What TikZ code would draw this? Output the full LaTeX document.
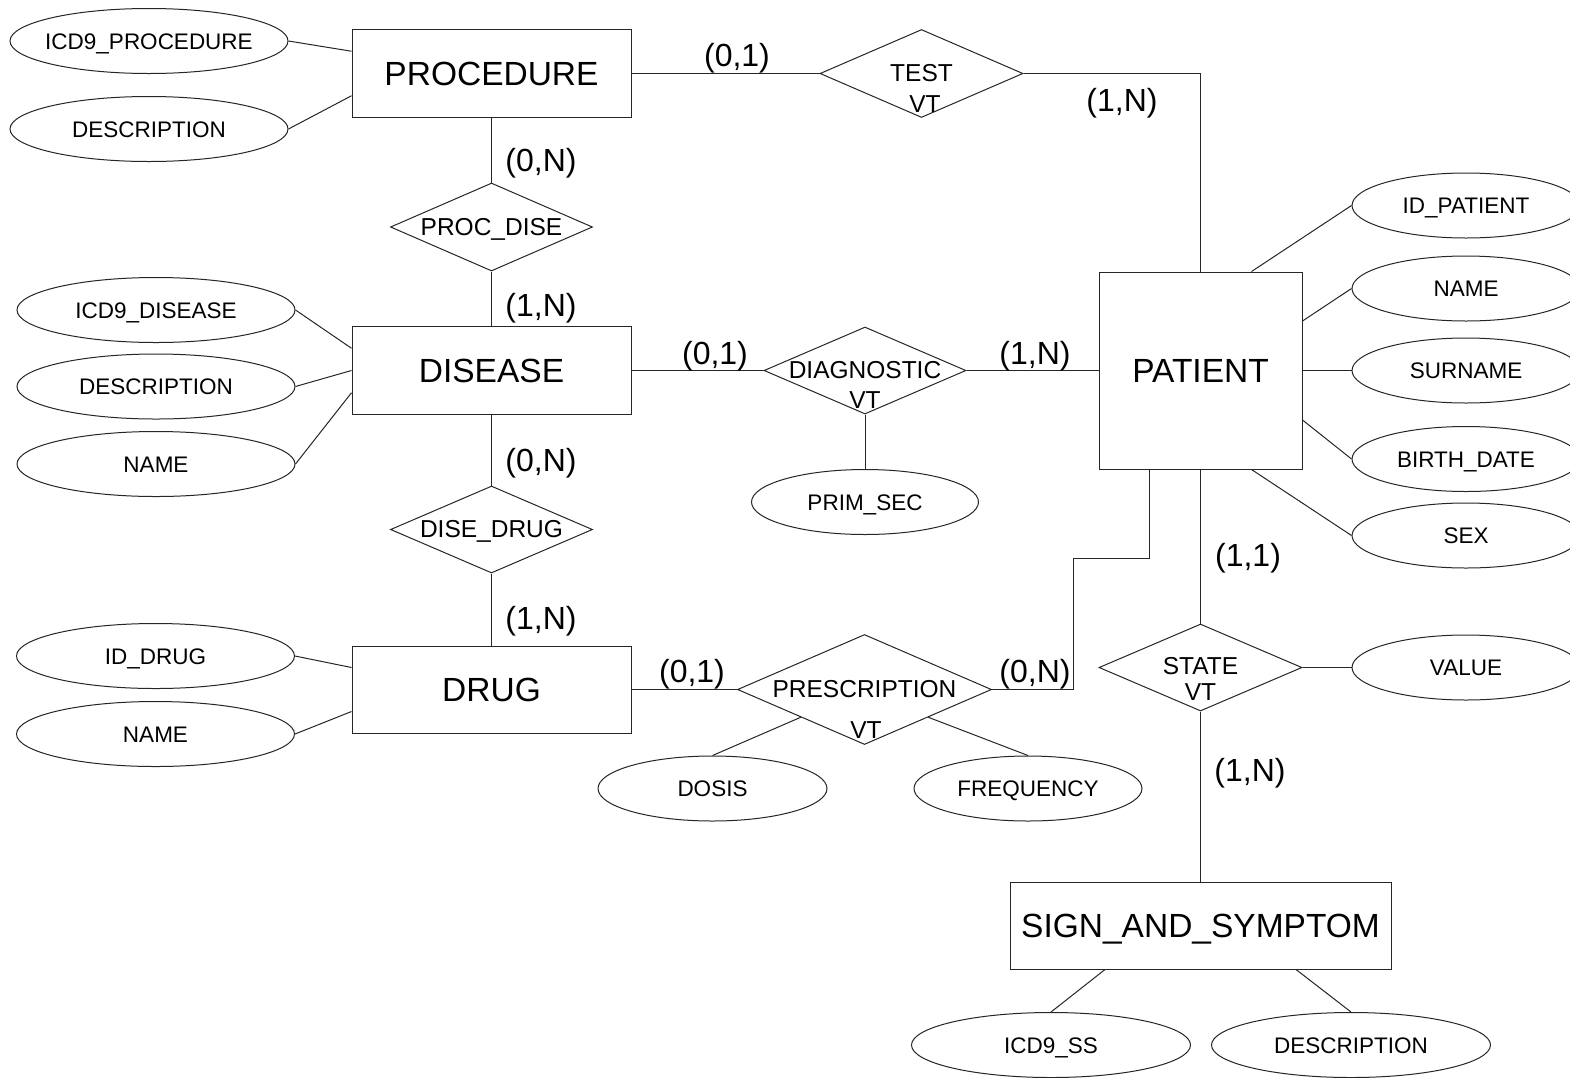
\documentclass[tikz,border=0pt]{standalone}
\usepackage{fontspec}
\setmainfont{Liberation Sans}
\usetikzlibrary{shapes.geometric,calc}
\begin{document}
\begin{tikzpicture}[x=1pt,y=-1pt,
  ln/.style={draw=black!85, line width=1pt},
  entity/.style={ln, rectangle, inner sep=0pt, font=\fontsize{33.5}{40}\selectfont, text height=24pt, text depth=0pt},
  rel/.style={ln, diamond, inner sep=0pt},
  attr/.style={ln, ellipse, inner sep=0pt, minimum height=65pt},
  lattr/.style={attr, minimum width=278pt},
  rattr/.style={attr, minimum width=228pt},
  atxt/.style={inner sep=0pt, font=\fontsize{22.5}{27}\selectfont, text height=16.1pt, text depth=0pt},
  rtxt/.style={inner sep=0pt, font=\fontsize{24.5}{29}\selectfont, text height=17.5pt, text depth=0pt},
  card/.style={inner sep=0pt, font=\fontsize{32}{38}\selectfont, text height=23pt, text depth=0pt}
]
\clip (0,0) rectangle (1570,1077);
\fill[white] (0,0) rectangle (1570,1077);

% entities
\node[entity, minimum width=279pt, minimum height=88pt] (proc) at (491.5,73.5) {PROCEDURE};
\node[entity, minimum width=279pt, minimum height=88pt] (dis) at (491.5,370.5) {DISEASE};
\node[entity, minimum width=279pt, minimum height=87pt] (drug) at (491.5,689.5) {DRUG};
\node[entity, minimum width=203pt, minimum height=197pt] (pat) at (1200.5,370.5) {PATIENT};
\node[entity, minimum width=381pt, minimum height=87pt] (sign) at (1200.5,925.5) {SIGN\_AND\_SYMPTOM};

% relationships
\node[rel, minimum width=203pt, minimum height=88pt] (test) at (921.5,73.5) {};
\node[rtxt] (testt) at (921.5,73) {TEST};
\node[rtxt] (testvt) at (925,104) {VT};
\node[rel, minimum width=202pt, minimum height=88pt] (procdise) at (491.5,227) {};
\node[rtxt] (procdiset) at (491.5,227) {PROC\_DISE};
\node[rel, minimum width=202pt, minimum height=87pt] (diag) at (865,370.5) {};
\node[rtxt] (diagt) at (865,370) {DIAGNOSTIC};
\node[rtxt] (diagvt) at (865,400) {VT};
\node[rel, minimum width=202pt, minimum height=87pt] (disedrug) at (491.5,529.5) {};
\node[rtxt] (disedrugt) at (491.5,529) {DISE\_DRUG};
\node[rel, minimum width=254pt, minimum height=110pt] (presc) at (864.5,689.5) {};
\node[rtxt] (presct) at (864.5,689) {PRESCRIPTION};
\node[rtxt] (prescvt) at (866,730) {VT};
\node[rel, minimum width=203pt, minimum height=87pt] (state) at (1200.5,667.5) {};
\node[rtxt] (statet) at (1200.5,666) {STATE};
\node[rtxt] (statevt) at (1200.5,692) {VT};

% attributes
\node[lattr] (icdproc) at (149,41) {};
\node[atxt] at (icdproc) {ICD9\_PROCEDURE};
\node[lattr] (descproc) at (149,129) {};
\node[atxt] at (descproc) {DESCRIPTION};
\node[lattr] (icddis) at (156,310) {};
\node[atxt] at (icddis) {ICD9\_DISEASE};
\node[lattr] (descdis) at (156,386.5) {};
\node[atxt] at (descdis) {DESCRIPTION};
\node[lattr] (namedis) at (156,464) {};
\node[atxt] at (namedis) {NAME};
\node[lattr] (iddrug) at (155.5,656) {};
\node[atxt] at (iddrug) {ID\_DRUG};
\node[lattr] (namedrug) at (155.5,734) {};
\node[atxt] at (namedrug) {NAME};

\node[rattr] (idpat) at (1466,205.5) {};
\node[atxt] at (idpat) {ID\_PATIENT};
\node[rattr] (namepat) at (1466,288.5) {};
\node[atxt] at (namepat) {NAME};
\node[rattr] (surname) at (1466,370.5) {};
\node[atxt] at (surname) {SURNAME};
\node[rattr] (birth) at (1466,459) {};
\node[atxt] at (birth) {BIRTH\_DATE};
\node[rattr] (sex) at (1466,535.5) {};
\node[atxt] at (sex) {SEX};
\node[rattr] (value) at (1466,667.5) {};
\node[atxt] at (value) {VALUE};

\node[attr, minimum width=227pt] (primsec) at (865,502) {};
\node[atxt] at (primsec) {PRIM\_SEC};
\node[attr, minimum width=229pt] (dosis) at (712.5,788.5) {};
\node[atxt] at (dosis) {DOSIS};
\node[attr, minimum width=228pt] (freq) at (1028,788.5) {};
\node[atxt] at (freq) {FREQUENCY};
\node[attr, minimum width=279pt] (icdss) at (1051,1045) {};
\node[atxt] at (icdss) {ICD9\_SS};
\node[attr, minimum width=279pt] (descss) at (1351,1045) {};
\node[atxt] at (descss) {DESCRIPTION};

% connectors: relationships
\draw[ln] (proc.east) -- (test.west);
\draw[ln] (test.east) -| (pat.north);
\draw[ln] (proc.south) -- (procdise.north);
\draw[ln] (procdise.south) -- (dis.north);
\draw[ln] (dis.east) -- (diag.west);
\draw[ln] (diag.east) -- (pat.west);
\draw[ln] (diag.south) -- (primsec.north);
\draw[ln] (dis.south) -- (disedrug.north);
\draw[ln] (disedrug.south) -- (drug.north);
\draw[ln] (drug.east) -- (presc.west);
\coordinate (pb) at ($(pat.south west)!0.25!(pat.south east)$);
\coordinate (kink) at (1073,558);
\draw[ln] (presc.east) -- (kink |- presc.east) -- (kink) -- (pb |- kink) -- (pb);
\draw[ln] ($(presc.west)!0.5!(presc.south)$) -- (dosis.north);
\draw[ln] ($(presc.east)!0.5!(presc.south)$) -- (freq.north);
\draw[ln] (pat.south) -- (state.north);
\draw[ln] (state.east) -- (value.west);
\draw[ln] (state.south) -- (sign.north);

% connectors: attributes
\draw[ln] (icdproc.east) -- ($(proc.north west)!0.25!(proc.south west)$);
\draw[ln] (descproc.east) -- ($(proc.north west)!0.75!(proc.south west)$);
\draw[ln] (icddis.east) -- ($(dis.north west)!0.25!(dis.south west)$);
\draw[ln] (descdis.east) -- (dis.west);
\draw[ln] (namedis.east) -- ($(dis.north west)!0.75!(dis.south west)$);
\draw[ln] (iddrug.east) -- ($(drug.north west)!0.25!(drug.south west)$);
\draw[ln] (namedrug.east) -- ($(drug.north west)!0.75!(drug.south west)$);
\draw[ln] ($(pat.north west)!0.75!(pat.north east)$) -- (idpat.west);
\draw[ln] ($(pat.north east)!0.25!(pat.south east)$) -- (namepat.west);
\draw[ln] (pat.east) -- (surname.west);
\draw[ln] ($(pat.north east)!0.75!(pat.south east)$) -- (birth.west);
\draw[ln] ($(pat.south west)!0.75!(pat.south east)$) -- (sex.west);
\draw[ln] ($(sign.south west)!0.25!(sign.south east)$) -- (icdss.north);
\draw[ln] ($(sign.south west)!0.75!(sign.south east)$) -- (descss.north);

% cardinalities
\node[card] (c1) at (737,55) {(0,1)};
\node[card] (c2) at (1122,100) {(1,N)};
\node[card] (c3) at (541,160) {(0,N)};
\node[card] (c4) at (541,305) {(1,N)};
\node[card] (c5) at (715,353) {(0,1)};
\node[card] (c6) at (1035,353) {(1,N)};
\node[card] (c7) at (541,460) {(0,N)};
\node[card] (c8) at (541,618) {(1,N)};
\node[card] (c9) at (692,671) {(0,1)};
\node[card] (c10) at (1035,671) {(0,N)};
\node[card] (c11) at (1248,555) {(1,1)};
\node[card] (c12) at (1250,770) {(1,N)};
\end{tikzpicture}
\end{document}
